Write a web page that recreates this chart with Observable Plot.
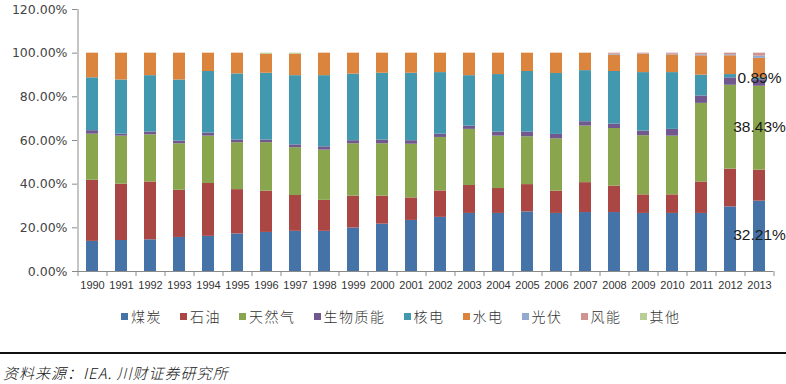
<!DOCTYPE html>
<html><head><meta charset="utf-8">
<script src="https://cdn.jsdelivr.net/npm/d3@7"></script>
<script src="https://cdn.jsdelivr.net/npm/@observablehq/plot@0.6"></script>
<style>
body{margin:0;background:#fff;}
#wrap{position:relative;width:786px;height:384px;overflow:hidden;background:#fff;}
#chart{position:absolute;left:0;top:0;}
#legend{position:absolute;left:121px;top:306px;display:flex;align-items:center;font-family:"Noto Sans CJK SC",sans-serif;font-size:14px;font-weight:300;letter-spacing:1.5px;color:#333;white-space:nowrap;}
#legend .item{display:flex;align-items:center;margin-right:18px;}
#legend .sw{width:7px;height:7px;margin-right:3px;}
#sep{position:absolute;left:0;top:352px;width:786px;height:2px;background:#111;}
#source{position:absolute;left:3px;top:362px;font-family:"Noto Sans CJK SC",sans-serif;font-size:15px;font-weight:300;font-style:italic;color:#111;letter-spacing:1px;}
</style></head><body>
<div id="wrap">
  <div id="chart"></div>
  <div id="legend"></div>
  <div id="sep"></div>
  <div id="source">资料来源：IEA. 川财证券研究所</div>
</div>
<script>
const years = ["1990","1991","1992","1993","1994","1995","1996","1997","1998","1999","2000","2001","2002","2003","2004","2005","2006","2007","2008","2009","2010","2011","2012","2013"];
const seriesNames = ["煤炭","石油","天然气","生物质能","核电","水电","光伏","风能","其他"];
const seriesColors = ["#4572A7","#AA4643","#89A54E","#71588F","#4198AF","#DB843D","#93A9CF","#D19392","#B9CD96"];
// shares in percent
const coal    = [13.8,14.2,14.5,15.6,16.1,17.2,17.9,18.4,18.4,19.9,21.7,23.4,24.8,26.6,26.6,27.3,26.6,27.0,27.0,26.6,26.6,26.6,29.6,32.21];
const oil     = [28.0,25.8,26.5,21.6,24.2,20.3,18.9,16.4,14.2,14.6,12.8,10.3,12.1,12.8,11.4,12.5,10.2,13.7,12.1,8.5,8.5,14.4,17.3,14.2];
const gas     = [21.1,22.0,21.6,21.3,21.7,21.5,22.2,21.9,23.0,24.0,24.0,24.6,24.5,25.7,24.0,21.9,24.0,25.9,26.4,27.1,26.9,36.0,38.4,38.43];
const biomass = [1.6,0.9,1.3,1.2,1.4,1.2,1.2,1.3,1.5,1.4,1.7,1.6,1.5,1.5,1.9,2.2,2.0,2.0,2.0,2.1,3.1,3.4,3.4,3.0];
const nuclear = [24.2,24.8,25.8,28.0,28.2,30.3,30.6,31.7,32.6,30.5,30.6,30.9,28.2,23.1,26.3,27.7,27.9,23.4,24.1,26.8,26.0,9.5,1.5,0.89];
const hydro   = [11.3,12.3,10.3,12.3,8.4,9.5,8.7,9.8,10.3,9.6,9.2,9.2,8.9,10.3,9.8,8.4,9.3,8.0,7.5,8.4,8.1,8.9,8.6,8.9];
const solar   = [0,0,0,0,0,0,0,0,0,0,0,0,0,0,0,0,0,0,0.4,0.2,0.3,0.5,0.5,1.0];
const wind    = [0,0,0,0,0,0,0,0,0,0,0,0,0,0,0,0,0,0,0.5,0.3,0.5,0.7,0.7,1.37];
const other   = [0,0,0,0,0,0,0.5,0.5,0,0,0,0,0,0,0,0,0,0,0,0,0,0,0,0];
const yTicks = [0,20,40,60,80,100,120];
const labelYear = "2013";
const labelSeries = ["煤炭","天然气","核电"];

const seriesValues = [coal, oil, gas, biomass, nuclear, hydro, solar, wind, other];
const rows = [];
seriesNames.forEach((s, si) => {
  years.forEach((y, yi) => rows.push({year: y, series: s, value: seriesValues[si][yi]}));
});

const axisColor = "#8a8a8a";
const chart = Plot.plot({
  width: 786,
  height: 300,
  marginLeft: 77,
  marginRight: 13,
  marginTop: 9,
  marginBottom: 29,
  style: {fontFamily: "'Liberation Sans', sans-serif", background: "#fff", overflow: "visible"},
  x: {type: "band", domain: years, paddingInner: 0.6, paddingOuter: 0.3, label: null},
  y: {domain: [0, 120], label: null},
  color: {domain: seriesNames, range: seriesColors},
  marks: [
    Plot.barY(rows, {x: "year", y: "value", z: "series", fill: "series", order: seriesNames}),
    Plot.ruleY([0], {stroke: axisColor}),
    Plot.ruleX([years[0]], {x: d => d, dx: -14.5, y1: 0, y2: 120, stroke: axisColor}),
    Plot.axisY({ticks: yTicks, tickSize: 5, tickPadding: 5, stroke: axisColor, fill: "#444", fontSize: 12.5, fontFamily: "'DejaVu Sans', sans-serif", tickFormat: d => d.toFixed(2) + "%"}),
    Plot.axisX({tickSize: 5, text: null, dx: -14.5, stroke: axisColor}),
    Plot.axisX({ticks: [years[years.length - 1]], tickSize: 5, text: null, dx: 14.5, stroke: axisColor}),
    Plot.axisX({tickSize: 0, tickPadding: 10, fontSize: 11, fill: "#333"}),
    Plot.text(rows, Plot.stackY({
      x: "year", y: "value", z: "series", order: seriesNames,
      text: d => (d.year === labelYear && labelSeries.includes(d.series)) ? d.value.toFixed(2) + "%" : "",
      fontSize: 15.5, dy: -1, fill: "#1a1a1a", fontFamily: "'Liberation Sans', sans-serif"
    }))
  ]
});
document.getElementById("chart").appendChild(chart);

const legend = document.getElementById("legend");
seriesNames.forEach((s, i) => {
  const it = document.createElement("div");
  it.className = "item";
  const sw = document.createElement("span");
  sw.className = "sw";
  sw.style.background = seriesColors[i];
  const t = document.createElement("span");
  t.textContent = s;
  it.appendChild(sw); it.appendChild(t);
  legend.appendChild(it);
});
</script>
</body></html>
